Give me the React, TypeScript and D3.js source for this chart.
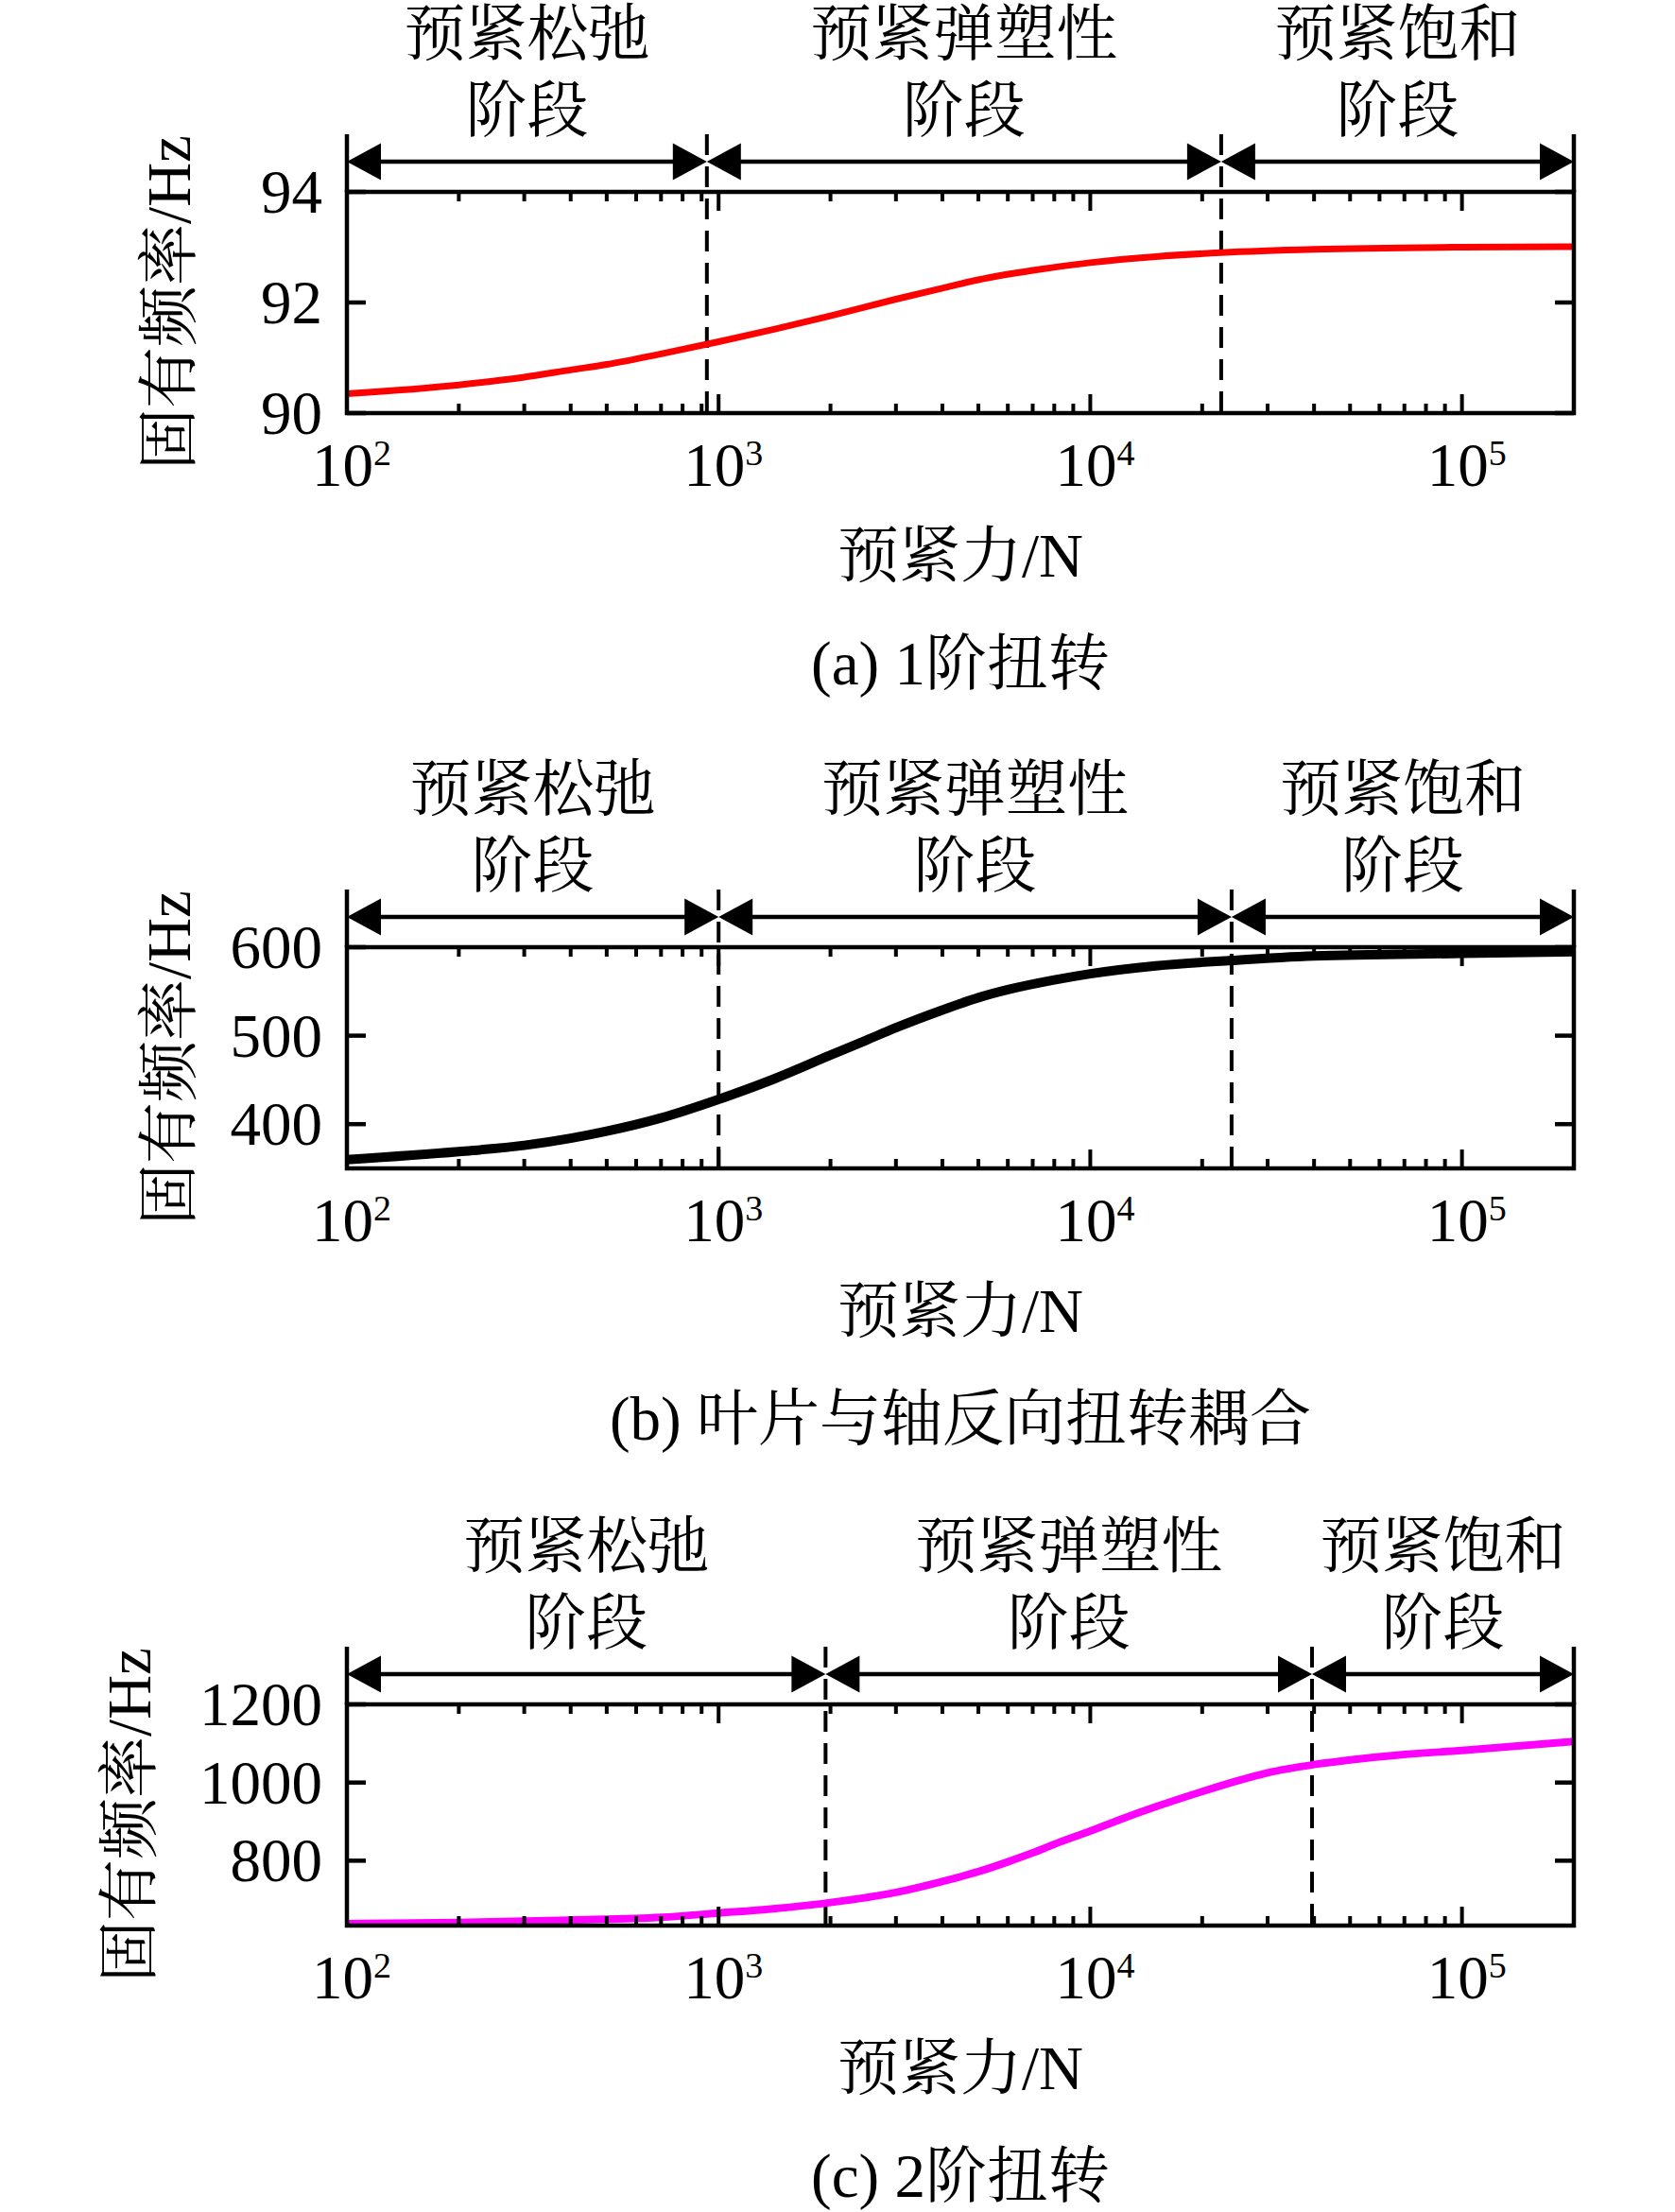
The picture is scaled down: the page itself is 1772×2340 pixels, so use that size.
import * as d3 from 'd3';

// preload force (N) and natural frequency (Hz)
const forceA = [100, 200, 300, 400, 500, 700, 1000, 1400, 2000, 3000, 4000, 5000, 7000, 10000, 15000, 22500, 40000, 100000, 200000];
const freqA = [90.35, 90.51, 90.65, 90.78, 90.88, 91.07, 91.29, 91.51, 91.76, 92.06, 92.26, 92.41, 92.58, 92.72, 92.83, 92.90, 92.96, 93.0, 93.01];

const forceB = [100, 200, 300, 400, 500, 700, 1000, 1350, 2000, 2500, 3000, 4000, 5000, 6000, 8000, 10000, 15000, 24000, 40000, 100000, 200000];
const freqB = [360, 369, 376, 384, 392, 407, 428, 448, 478, 495, 509, 529, 543, 552, 563, 570, 579, 585, 590, 593, 595];

const forceC = [100, 200, 400, 700, 1000, 1400, 2000, 3000, 4000, 5000, 6000, 7000, 8000, 10000, 12000, 15000, 20000, 25000, 30000, 40000, 50000, 70000, 100000, 200000];
const freqC = [639, 642, 648, 655, 666, 677, 693, 719, 747, 772, 797, 820, 842, 876, 905, 938, 977, 1005, 1025, 1046, 1058, 1072, 1082, 1105];

const forces = [forceA, forceB, forceC];
const freqs = [freqA, freqB, freqC];

const yDomains = [[90, 94], [350, 600], [634, 1200]];
const yTicks = [[90, 92, 94], [400, 500, 600], [800, 1000, 1200]];
const stageBounds = [[930, 22500], [1000, 24000], [1940, 39500]];
const xDomain = [100, 200000];
const xTickExps = [2, 3, 4, 5];

const stageLine1 = ['预紧松弛', '预紧弹塑性', '预紧饱和'];
const stageLine2 = '阶段';
const captions = ['(a) 1阶扭转', '(b) 叶片与轴反向扭转耦合', '(c) 2阶扭转'];
const yTitle = '固有频率/Hz';
const xTitle = '预紧力/N';

const W = 1772;
const H = 2340;
const LEFT = 367;
const RIGHT = 1665;
const PLOT_H = 234;
const panelTops = [203, 1002, 1803];
const lineColors = ['#ff0000', '#000000', '#ff00ff'];
const lineWidths = [7, 10, 8];
const yTitleX = [177, 177, 135];
const FS = 65;
const SW = 4.5;

function Panel({ idx }: { idx: number }) {
  const top = panelTops[idx];
  const bottom = top + PLOT_H;
  const x = d3.scaleLog().domain(xDomain).range([LEFT, RIGHT]);
  const y = d3.scaleLinear().domain(yDomains[idx]).range([bottom, top]);

  const pts: [number, number][] = forces[idx].map((f, i) => [f, freqs[idx][i]]);
  const line = d3.line<[number, number]>()
    .x(d => x(d[0]))
    .y(d => y(d[1]))
    .curve(d3.curveMonotoneX);

  const isMajor = (t: number) => Math.abs(Math.log10(t) - Math.round(Math.log10(t))) < 1e-9;
  const xt = x.ticks().filter(t => t > xDomain[0] && t < xDomain[1]);

  const arrowY = top - 32;
  const extTop = top - 61;
  const bounds = [LEFT, x(stageBounds[idx][0]), x(stageBounds[idx][1]), RIGHT];
  const head = 36;
  const hh = 19.5;

  return (
    <g>
      {/* stage labels */}
      {stageLine1.map((s, i) => {
        const cx = (bounds[i] + bounds[i + 1]) / 2;
        return (
          <g key={'st' + i}>
            <text x={cx} y={top - 169 + 24} textAnchor="middle" fontSize={FS}>{s}</text>
            <text x={cx} y={top - 88 + 24} textAnchor="middle" fontSize={FS}>{stageLine2}</text>
          </g>
        );
      })}

      {/* stage arrows */}
      {[0, 1, 2].map(i => {
        const a = bounds[i];
        const b = bounds[i + 1];
        return (
          <g key={'ar' + i}>
            <line x1={a + head - 2} x2={b - head + 2} y1={arrowY} y2={arrowY} stroke="#000" strokeWidth={SW} />
            <path d={`M${a},${arrowY} L${a + head},${arrowY - hh} L${a + head},${arrowY + hh} Z`} fill="#000" />
            <path d={`M${b},${arrowY} L${b - head},${arrowY - hh} L${b - head},${arrowY + hh} Z`} fill="#000" />
          </g>
        );
      })}

      {/* dashed stage boundaries */}
      {stageBounds[idx].map((b, i) => (
        <line key={'d' + i} x1={x(b)} x2={x(b)} y1={extTop} y2={bottom}
          stroke="#000" strokeWidth={4} strokeDasharray="22 12" />
      ))}

      {/* curve */}
      <path d={line(pts) || ''} fill="none" stroke={lineColors[idx]} strokeWidth={lineWidths[idx]} strokeLinejoin="round" />

      {/* frame and axis extensions */}
      <rect x={LEFT} y={top} width={RIGHT - LEFT} height={PLOT_H} fill="none" stroke="#000" strokeWidth={SW} />
      <line x1={LEFT} x2={LEFT} y1={extTop} y2={top} stroke="#000" strokeWidth={SW} />
      <line x1={RIGHT} x2={RIGHT} y1={extTop} y2={top} stroke="#000" strokeWidth={SW} />

      {/* x ticks top & bottom */}
      {xt.map(t => {
        const len = isMajor(t) ? 20 : 10;
        const px = x(t);
        return (
          <g key={'xt' + t}>
            <line x1={px} x2={px} y1={bottom} y2={bottom - len} stroke="#000" strokeWidth={4} />
            <line x1={px} x2={px} y1={top} y2={top + len} stroke="#000" strokeWidth={4} />
          </g>
        );
      })}

      {/* y ticks left & right */}
      {yTicks[idx].map(t => (
        <g key={'yt' + t}>
          <line x1={LEFT} x2={LEFT + 20} y1={y(t)} y2={y(t)} stroke="#000" strokeWidth={SW} />
          <line x1={RIGHT} x2={RIGHT - 20} y1={y(t)} y2={y(t)} stroke="#000" strokeWidth={SW} />
          <text x={LEFT - 26} y={y(t) + 22} textAnchor="end" fontSize={FS}>{t}</text>
        </g>
      ))}

      {/* x tick labels */}
      {xTickExps.map(e => {
        const px = x(Math.pow(10, e));
        return (
          <g key={'xl' + e}>
            <text x={px + 28} y={bottom + 77} textAnchor="end" fontSize={FS}>10</text>
            <text x={px + 28} y={bottom + 55} textAnchor="start" fontSize={38}>{e}</text>
          </g>
        );
      })}

      {/* axis titles */}
      <text x={(LEFT + RIGHT) / 2} y={bottom + 149 + 24} textAnchor="middle" fontSize={FS}>{xTitle}</text>
      <text transform={`translate(${yTitleX[idx]},${(top + bottom) / 2}) rotate(-90)`} x={0} y={24}
        textAnchor="middle" fontSize={FS}>{yTitle}</text>

      {/* caption */}
      <text x={(LEFT + RIGHT) / 2} y={bottom + 263 + 24} textAnchor="middle" fontSize={FS}>{captions[idx]}</text>
    </g>
  );
}

export default function App() {
  return (
    <svg width={W} height={H} viewBox={`0 0 ${W} ${H}`}
      style={{ position: 'absolute', left: 0, top: 0, background: '#fff' }}
      fontFamily="'Liberation Serif', 'Times New Roman', 'Noto Serif CJK SC', 'Noto Sans CJK SC', serif">
      <rect x={0} y={0} width={W} height={H} fill="#fff" />
      {[0, 1, 2].map(i => <Panel key={i} idx={i} />)}
    </svg>
  );
}
